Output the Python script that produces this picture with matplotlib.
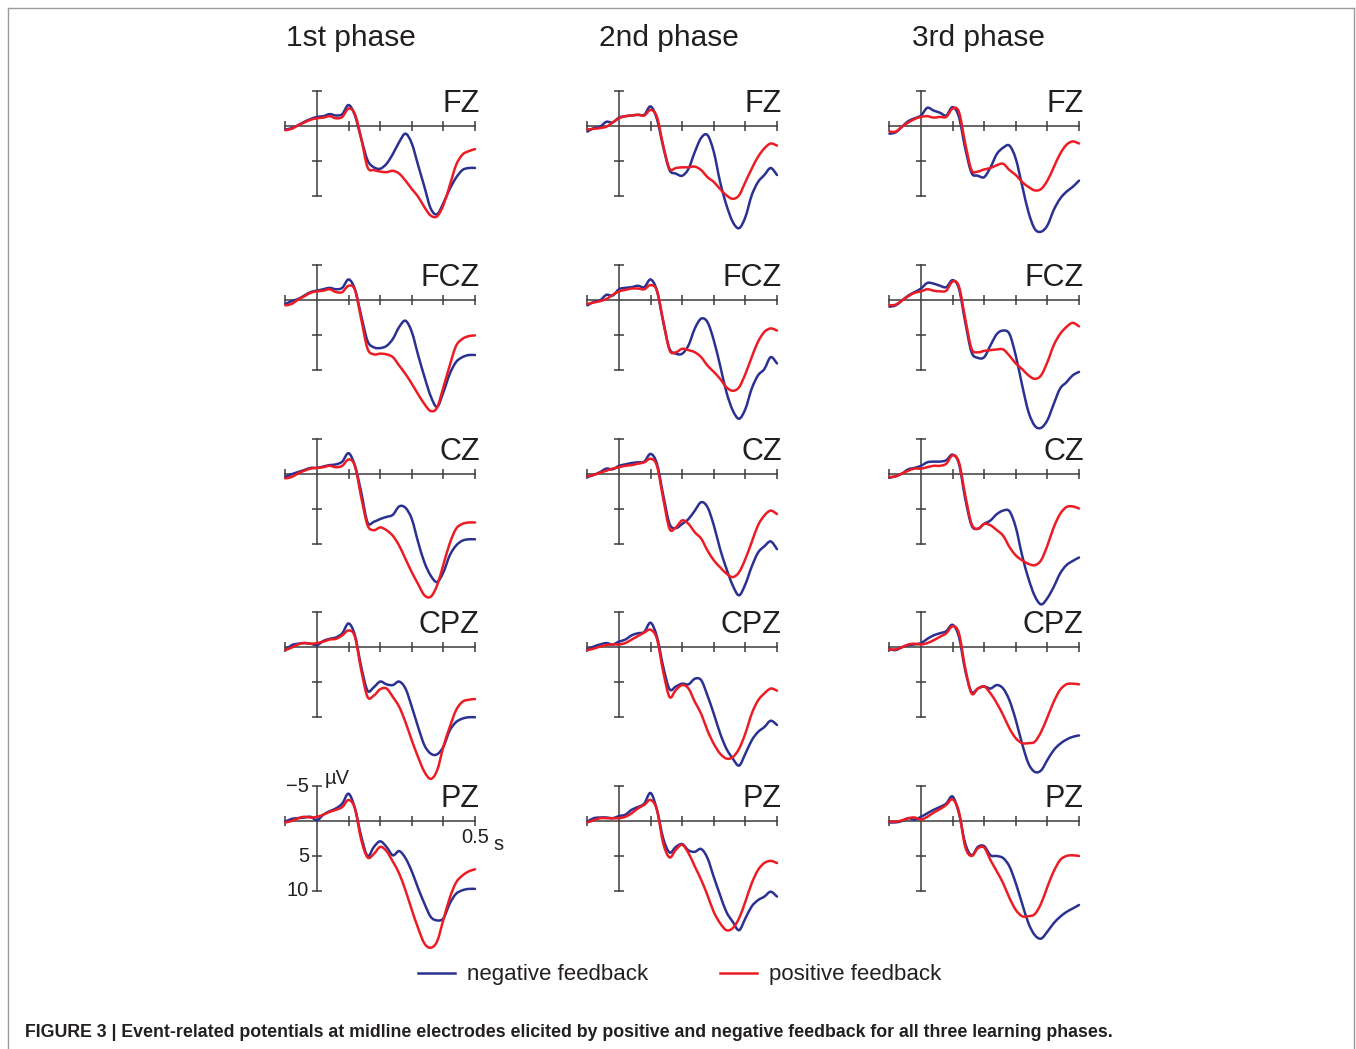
import numpy as np
import matplotlib
matplotlib.use("Agg")
import matplotlib.pyplot as plt
from matplotlib.lines import Line2D
from matplotlib.path import Path
from matplotlib.patches import PathPatch

plt.rcParams["font.family"] = ["Liberation Sans", "DejaVu Sans"]

# sample times in seconds (-100 ms .. 500 ms, 20 ms steps)
times = np.arange(-100, 501, 20) / 1000.0

phases = ["1st phase", "2nd phase", "3rd phase"]
electrodes = ["FZ", "FCZ", "CZ", "CPZ", "PZ"]

# grand averages in microvolts, negative feedback (neg) / positive feedback (pos)
# --- 1st phase ---
fz_neg_1 = [0.5, 0.3, -0.1, -0.6, -1.0, -1.3, -1.4, -1.7, -1.5, -1.7, -3.0, -1.5, 1.8, 4.9, 5.9, 6.1, 5.4, 4.0, 2.3, 1.1, 2.5, 5.6, 8.7, 11.8, 12.6, 11.0, 9.0, 7.4, 6.3, 6.0, 6.0]
fz_pos_1 = [0.6, 0.4, -0.1, -0.5, -0.9, -1.1, -1.2, -1.4, -1.1, -1.3, -2.5, -1.7, 1.8, 5.9, 6.3, 6.5, 6.6, 6.4, 6.8, 7.8, 9.0, 10.1, 11.6, 12.8, 12.9, 11.3, 8.5, 5.6, 4.1, 3.6, 3.3]
fcz_neg_1 = [0.6, 0.2, -0.1, -0.6, -1.1, -1.3, -1.5, -1.7, -1.5, -1.7, -2.9, -1.5, 2.3, 5.9, 6.8, 6.9, 6.6, 5.6, 3.9, 3.0, 4.6, 7.9, 11.0, 13.8, 15.3, 13.2, 10.6, 8.9, 8.2, 7.9, 7.9]
fcz_pos_1 = [0.8, 0.6, 0.0, -0.5, -1.0, -1.2, -1.3, -1.5, -1.1, -1.1, -2.0, -1.4, 2.8, 7.0, 7.8, 7.7, 7.8, 8.2, 9.4, 10.6, 12.0, 13.5, 14.9, 15.9, 15.4, 12.5, 9.4, 6.6, 5.6, 5.2, 5.1]
cz_neg_1 = [0.5, 0.1, -0.2, -0.5, -0.8, -0.8, -1.0, -1.2, -1.3, -1.7, -2.9, -1.1, 2.7, 7.0, 6.9, 6.5, 6.2, 5.9, 4.7, 4.9, 6.5, 9.8, 12.7, 14.6, 15.5, 14.1, 11.7, 10.3, 9.6, 9.4, 9.4]
cz_pos_1 = [0.7, 0.5, 0.0, -0.4, -0.7, -0.8, -0.9, -1.1, -0.9, -1.1, -2.0, -1.1, 3.4, 7.4, 8.1, 7.7, 8.1, 8.9, 10.3, 12.2, 14.1, 15.8, 17.4, 17.6, 16.0, 13.0, 10.0, 7.9, 7.2, 7.0, 7.0]
cpz_neg_1 = [0.4, -0.3, -0.5, -0.6, -0.5, -0.3, -0.9, -1.2, -1.4, -2.0, -3.4, -1.7, 2.8, 6.2, 5.7, 4.9, 5.3, 5.4, 4.9, 5.9, 8.5, 11.4, 14.0, 15.2, 15.3, 14.2, 11.9, 10.7, 10.2, 10.0, 10.0]
cpz_pos_1 = [0.4, 0.05, -0.4, -0.6, -0.5, -0.6, -0.8, -1.1, -1.2, -1.7, -2.4, -1.5, 3.3, 7.1, 6.9, 6.0, 5.9, 7.1, 8.5, 10.7, 13.3, 15.7, 17.8, 18.8, 17.6, 14.2, 11.4, 9.0, 7.8, 7.5, 7.4]
pz_neg_1 = [0.1, -0.3, -0.4, -0.5, -0.6, -0.1, -0.9, -1.4, -1.8, -2.5, -3.9, -1.8, 2.2, 5.0, 3.7, 2.9, 3.7, 4.9, 4.3, 5.3, 7.2, 9.6, 11.8, 13.7, 14.2, 13.9, 11.8, 10.4, 9.9, 9.7, 9.7]
pz_pos_1 = [0.2, 0.0, -0.4, -0.6, -0.5, -0.6, -0.9, -1.3, -1.6, -2.0, -3.0, -1.8, 2.7, 5.2, 4.7, 3.7, 4.3, 5.8, 7.5, 9.9, 12.7, 15.3, 17.5, 18.1, 17.2, 14.1, 11.0, 8.8, 7.8, 7.2, 6.9]

# --- 2nd phase ---
fz_neg_2 = [0.8, 0.3, 0.1, -0.6, -0.5, -1.2, -1.4, -1.5, -1.6, -1.6, -2.8, -1.0, 3.0, 6.3, 6.8, 7.1, 6.1, 3.7, 1.7, 1.3, 3.7, 8.0, 11.3, 13.7, 14.6, 13.0, 9.9, 8.0, 7.0, 6.0, 7.0]
fz_pos_2 = [0.5, 0.4, 0.3, 0.1, -0.5, -1.1, -1.4, -1.5, -1.6, -1.5, -2.3, -1.3, 2.8, 6.1, 6.0, 5.9, 5.9, 5.8, 6.3, 7.3, 8.0, 9.0, 9.9, 10.4, 9.9, 8.0, 6.1, 4.4, 3.2, 2.5, 2.8]
fcz_neg_2 = [0.8, 0.3, 0.1, -0.7, -0.6, -1.5, -1.7, -1.8, -2.0, -1.8, -2.9, -1.3, 3.2, 7.0, 7.7, 7.7, 6.5, 4.1, 2.7, 3.2, 5.8, 9.4, 13.2, 15.8, 17.0, 15.6, 12.7, 10.8, 9.9, 8.2, 9.1]
fcz_pos_2 = [0.6, 0.4, 0.2, -0.1, -0.7, -1.2, -1.4, -1.6, -1.6, -1.5, -2.1, -1.3, 3.0, 7.2, 7.5, 7.0, 7.2, 7.5, 8.2, 9.4, 10.3, 11.3, 12.5, 13.0, 12.5, 10.6, 8.2, 6.0, 4.6, 4.1, 4.4]
cz_neg_2 = [0.5, 0.2, -0.2, -0.7, -0.6, -1.1, -1.3, -1.5, -1.6, -1.7, -2.8, -1.4, 3.1, 7.2, 7.8, 7.2, 6.5, 5.3, 4.1, 4.8, 7.4, 10.8, 13.6, 16.0, 17.4, 15.8, 13.3, 11.3, 10.4, 9.7, 10.8]
cz_pos_2 = [0.4, 0.2, -0.1, -0.4, -0.7, -0.9, -1.1, -1.2, -1.4, -1.6, -2.1, -1.1, 3.6, 7.9, 7.7, 6.7, 7.2, 8.4, 9.3, 11.0, 12.4, 13.4, 14.3, 14.8, 14.1, 12.2, 9.8, 7.4, 6.0, 5.3, 5.8]
cpz_neg_2 = [0.3, -0.1, -0.4, -0.6, -0.4, -0.8, -1.1, -1.7, -2.0, -2.2, -3.5, -1.5, 2.8, 6.0, 5.6, 5.2, 5.3, 4.5, 4.7, 6.9, 9.5, 12.3, 14.5, 15.9, 16.9, 15.2, 13.3, 12.1, 11.4, 10.5, 11.1]
cpz_pos_2 = [0.4, 0.2, -0.1, -0.3, -0.4, -0.4, -0.6, -1.1, -1.6, -2.1, -2.5, -1.2, 3.5, 7.1, 6.1, 5.4, 5.9, 7.8, 9.5, 11.9, 13.8, 15.2, 15.9, 15.7, 14.5, 12.3, 9.5, 7.6, 6.6, 5.9, 6.2]
pz_neg_2 = [0.1, -0.4, -0.5, -0.5, -0.4, -0.7, -0.9, -1.6, -2.0, -2.5, -4.0, -1.6, 2.5, 4.5, 3.7, 3.3, 4.2, 4.4, 4.0, 5.3, 8.0, 10.6, 13.0, 14.4, 15.6, 13.9, 12.2, 11.3, 10.8, 10.1, 10.8]
pz_pos_2 = [0.2, -0.1, -0.4, -0.4, -0.4, -0.4, -0.6, -1.1, -1.8, -2.3, -3.0, -1.6, 3.2, 5.2, 4.1, 3.4, 4.6, 6.5, 8.4, 10.6, 13.0, 14.6, 15.6, 15.3, 13.9, 11.5, 8.9, 7.0, 6.0, 5.7, 6.0]

# --- 3rd phase ---
fz_neg_3 = [1.1, 0.9, 0.1, -0.7, -1.1, -1.5, -2.6, -2.2, -1.9, -1.5, -2.7, -1.3, 3.2, 6.7, 7.1, 7.3, 5.9, 4.0, 3.1, 2.8, 4.7, 8.5, 12.3, 14.7, 15.1, 14.2, 12.0, 10.4, 9.4, 8.7, 7.8]
fz_pos_3 = [0.8, 0.8, 0.1, -0.5, -1.0, -1.3, -1.4, -1.2, -1.3, -1.3, -2.5, -2.0, 2.5, 6.3, 6.5, 6.2, 6.0, 5.6, 5.4, 6.3, 7.0, 8.0, 8.7, 9.2, 9.0, 7.8, 5.9, 4.0, 2.7, 2.2, 2.5]
fcz_neg_3 = [1.0, 0.8, 0.1, -0.6, -1.1, -1.6, -2.4, -2.3, -2.0, -1.8, -2.8, -1.6, 3.2, 7.5, 8.3, 8.2, 6.5, 4.9, 4.4, 4.9, 8.0, 12.2, 16.0, 18.0, 18.3, 17.2, 14.9, 12.7, 11.8, 10.8, 10.3]
fcz_pos_3 = [0.8, 0.7, 0.1, -0.5, -1.0, -1.2, -1.5, -1.3, -1.2, -1.3, -2.6, -1.9, 2.7, 7.0, 7.5, 7.3, 7.2, 7.1, 7.1, 8.0, 9.1, 9.9, 10.8, 11.3, 10.8, 8.9, 6.5, 4.9, 3.9, 3.3, 3.8]
cz_neg_3 = [0.6, 0.4, 0.0, -0.6, -0.8, -1.1, -1.6, -1.7, -1.7, -1.9, -2.7, -1.4, 3.6, 7.4, 7.9, 7.2, 6.7, 5.8, 5.3, 5.4, 7.7, 11.7, 15.0, 17.5, 18.7, 17.8, 16.2, 14.3, 13.1, 12.5, 12.0]
cz_pos_3 = [0.5, 0.4, 0.0, -0.4, -0.7, -0.7, -0.9, -1.1, -1.1, -1.4, -2.6, -1.6, 3.1, 7.2, 7.9, 7.2, 7.4, 8.1, 8.9, 10.5, 11.7, 12.4, 12.9, 13.1, 12.4, 10.3, 7.7, 5.8, 4.8, 4.7, 5.0]
cpz_neg_3 = [0.3, 0.4, 0.0, -0.3, -0.4, -0.6, -1.2, -1.7, -2.0, -2.3, -3.2, -1.5, 3.3, 6.4, 5.9, 5.6, 5.9, 5.4, 5.9, 7.6, 10.4, 13.8, 16.6, 17.8, 17.6, 16.1, 14.7, 13.8, 13.2, 12.8, 12.6]
cpz_pos_3 = [0.3, 0.3, 0.0, -0.4, -0.5, -0.4, -0.6, -1.0, -1.5, -2.0, -3.0, -2.0, 3.0, 6.6, 5.9, 5.6, 6.6, 8.0, 9.7, 11.6, 13.0, 13.7, 13.7, 13.5, 12.1, 10.0, 7.8, 6.1, 5.3, 5.2, 5.3]
pz_neg_3 = [0.2, 0.2, 0.0, -0.4, -0.2, -0.6, -1.1, -1.6, -2.0, -2.5, -3.5, -1.1, 3.2, 4.9, 3.7, 3.6, 4.9, 5.0, 5.3, 6.5, 8.9, 11.8, 14.6, 16.3, 16.8, 15.8, 14.6, 13.7, 13.0, 12.5, 12.0]
pz_pos_3 = [0.1, 0.1, -0.1, -0.4, -0.5, -0.2, -0.6, -1.2, -1.7, -2.3, -3.1, -1.3, 3.7, 5.0, 3.9, 3.8, 5.6, 7.2, 8.9, 11.0, 12.7, 13.6, 13.6, 13.3, 11.8, 9.4, 7.2, 5.6, 5.0, 4.9, 5.0]

neg_waves = [
    [fz_neg_1, fcz_neg_1, cz_neg_1, cpz_neg_1, pz_neg_1],
    [fz_neg_2, fcz_neg_2, cz_neg_2, cpz_neg_2, pz_neg_2],
    [fz_neg_3, fcz_neg_3, cz_neg_3, cpz_neg_3, pz_neg_3],
]
pos_waves = [
    [fz_pos_1, fcz_pos_1, cz_pos_1, cpz_pos_1, pz_pos_1],
    [fz_pos_2, fcz_pos_2, cz_pos_2, cpz_pos_2, pz_pos_2],
    [fz_pos_3, fcz_pos_3, cz_pos_3, cpz_pos_3, pz_pos_3],
]

BLUE = "#2b3191"
RED = "#ed1c24"
AXC = "#3c3c3c"
TXT = "#231f20"

W, H = 1356, 1049
fig = plt.figure(figsize=(W / 100, H / 100), dpi=100)
fig.patch.set_facecolor("white")

# panel layout in pixels: position of the t=0 / 0 uV origin of each panel
col_x0 = [317, 619, 921]
row_y0 = [126, 299.75, 473.5, 647.25, 821]
px_per_s = 316.0
px_per_uv = 7.0
t_lo, t_hi = -0.14, 0.58
v_lo, v_hi = -7.0, 21.0


def panel_axes(x0, y0):
    left = x0 + t_lo * px_per_s
    right = x0 + t_hi * px_per_s
    top = y0 + v_lo * px_per_uv
    bottom = y0 + v_hi * px_per_uv
    ax = fig.add_axes([left / W, 1 - bottom / H, (right - left) / W, (bottom - top) / H])
    ax.set_xlim(t_lo, t_hi)
    ax.set_ylim(v_hi, v_lo)  # negative up
    ax.axis("off")
    ax.patch.set_alpha(0)
    return ax


def wave(ax, x, y, color, z):
    # smooth curve through the samples (Catmull-Rom as cubic Bezier segments)
    x = np.asarray(x, float)
    y = np.asarray(y, float)
    px = np.concatenate([[x[0]], x, [x[-1]]])
    py = np.concatenate([[y[0]], y, [y[-1]]])
    verts = [(x[0], y[0])]
    codes = [Path.MOVETO]
    for i in range(1, len(px) - 2):
        c1 = (px[i] + (px[i + 1] - px[i - 1]) / 6, py[i] + (py[i + 1] - py[i - 1]) / 6)
        c2 = (px[i + 1] - (px[i + 2] - px[i]) / 6, py[i + 1] - (py[i + 2] - py[i]) / 6)
        verts += [c1, c2, (px[i + 1], py[i + 1])]
        codes += [Path.CURVE4] * 3
    patch = PathPatch(Path(verts, codes), fill=False, edgecolor=color, lw=1.8,
                      capstyle="round", joinstyle="round", zorder=z, clip_on=False)
    ax.add_patch(patch)


for c, phase in enumerate(phases):
    for r, name in enumerate(electrodes):
        ax = panel_axes(col_x0[c], row_y0[r])
        # axes drawn through the origin
        ax.plot([-0.1, 0.5], [0, 0], color=AXC, lw=1.1, zorder=1, clip_on=False)
        ax.plot([0, 0], [-5, 10], color=AXC, lw=1.1, zorder=1, clip_on=False)
        ax.plot([-0.1, 0.1, 0.2, 0.3, 0.4, 0.5], [0] * 6, ls="none", marker="|",
                ms=6.5, mew=1.1, color=AXC, zorder=1, clip_on=False)
        ax.plot([0, 0, 0], [-5, 5, 10], ls="none", marker="_",
                ms=7.5, mew=1.1, color=AXC, zorder=1, clip_on=False)

        wave(ax, times, neg_waves[c][r], BLUE, 3)
        wave(ax, times, pos_waves[c][r], RED, 4)

        ax.text(0.515, -2.0, name, ha="right", va="baseline", fontsize=22, color=TXT)

        if c == 0 and r == len(electrodes) - 1:
            for v, lab in [(-5, "\u22125"), (5, "5"), (10, "10")]:
                ax.text(-0.025, v, lab, ha="right", va="center", fontsize=14.5, color=TXT)
            ax.text(0.025, -6.0, "\u00b5V", ha="left", va="center", fontsize=14.5, color=TXT)
            ax.text(0.5, 2.4, "0.5", ha="center", va="center", fontsize=14.5, color=TXT)
            ax.text(0.557, 3.4, "s", ha="left", va="center", fontsize=14.5, color=TXT)

# column headings
for x, phase in zip([351, 669, 978], phases):
    fig.text(x / W, 1 - 46 / H, phase, ha="center", va="baseline", fontsize=21.5, color=TXT)

# legend
fig.add_artist(Line2D([418 / W, 455 / W], [1 - 973 / H] * 2, color=BLUE, lw=1.8))
fig.text(467 / W, 1 - 980 / H, "negative feedback", ha="left", va="baseline", fontsize=16, color=TXT)
fig.add_artist(Line2D([720 / W, 757 / W], [1 - 973 / H] * 2, color=RED, lw=1.8))
fig.text(769 / W, 1 - 980 / H, "positive feedback", ha="left", va="baseline", fontsize=16, color=TXT)

# caption
fig.text(25 / W, 1 - 1037 / H,
         "FIGURE 3 | Event-related potentials at midline electrodes elicited by positive "
         "and negative feedback for all three learning phases.",
         ha="left", va="baseline", fontsize=12.8, fontweight="bold", color=TXT)

# thin frame around the figure
frame = dict(color="#9a9a9a", lw=1.0)
fig.add_artist(Line2D([8 / W, 8 / W], [0, 1 - 8 / H], **frame))
fig.add_artist(Line2D([8 / W, 1354 / W], [1 - 8 / H] * 2, **frame))
fig.add_artist(Line2D([1354 / W, 1354 / W], [0, 1 - 8 / H], **frame))

fig.savefig("out.png", dpi=100, facecolor="white")
